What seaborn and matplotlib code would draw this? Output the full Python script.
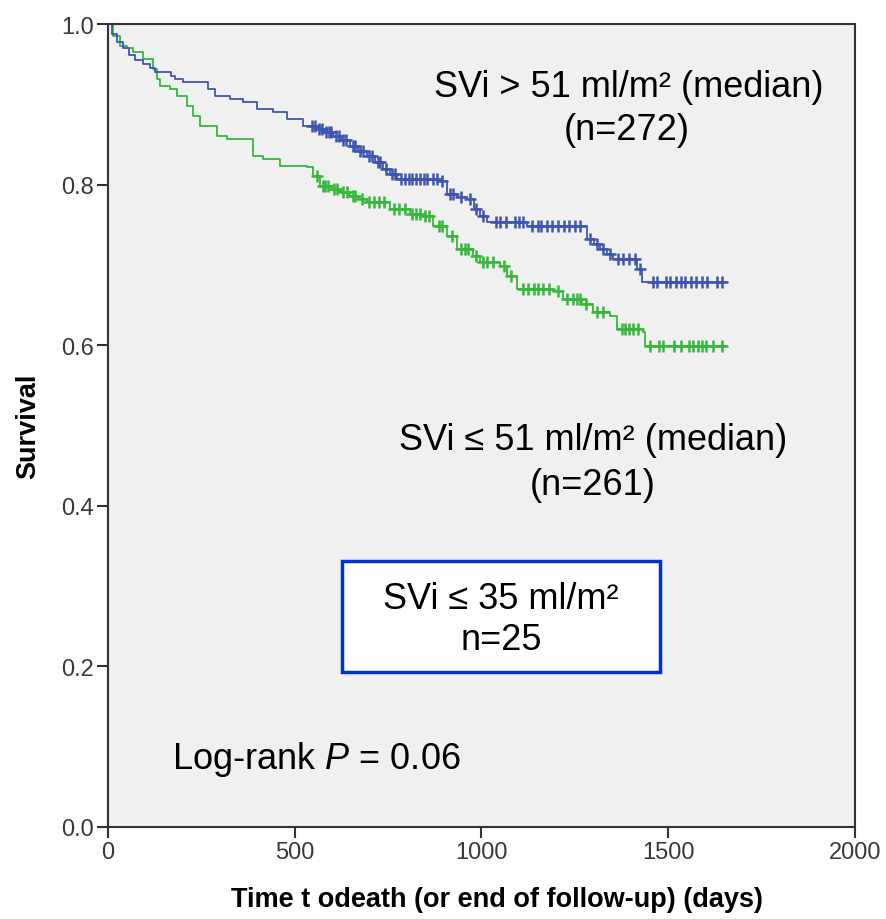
import numpy as np
import pandas as pd
import matplotlib
matplotlib.use("Agg")
import matplotlib.pyplot as plt
import seaborn as sns
from matplotlib.patches import Rectangle

# ---------------- data ----------------
# SVi > 51 ml/m2 (blue): event times (days) and survival after each step
blue_t = [0, 12, 25, 40, 55, 72, 95, 112, 126, 168, 180, 200, 268, 286, 327, 361,
          399, 442, 479, 522, 559, 580, 602, 625, 648, 670, 693, 715, 736, 755,
          773, 889, 907, 935, 961, 980, 996, 1015, 1121, 1282, 1300, 1317, 1335,
          1352, 1416, 1430]
blue_s = [1.0, 0.988, 0.978, 0.970, 0.962, 0.955, 0.950, 0.945, 0.940, 0.935,
          0.931, 0.928, 0.919, 0.910, 0.907, 0.903, 0.894, 0.890, 0.882, 0.873,
          0.869, 0.865, 0.861, 0.855, 0.848, 0.842, 0.836, 0.828, 0.819, 0.813,
          0.807, 0.804, 0.788, 0.785, 0.782, 0.770, 0.761, 0.753, 0.748, 0.732,
          0.726, 0.720, 0.713, 0.707, 0.695, 0.679]
blue_cens = [545, 555, 565, 572, 585, 592, 598, 610, 618, 630, 638, 655, 662, 676,
             684, 700, 708, 722, 728, 745, 760, 768, 785, 795, 805, 815, 825, 835,
             845, 855, 870, 880, 895, 915, 925, 945, 970, 985, 1005, 1040, 1050,
             1065, 1090, 1100, 1110, 1135, 1150, 1160, 1175, 1190, 1205, 1220, 1235,
             1250, 1265, 1290, 1310, 1325, 1345, 1365, 1380, 1395, 1410, 1425, 1460,
             1470, 1495, 1505, 1520, 1535, 1545, 1560, 1575, 1590, 1605, 1630, 1645]

# SVi <= 51 ml/m2 (green)
green_t = [0, 13, 32, 50, 67, 94, 120, 131, 139, 166, 185, 211, 228, 246, 292,
           319, 388, 415, 460, 533, 549, 568, 600, 621, 648, 670, 693, 755, 808,
           843, 870, 907, 934, 977, 996, 1049, 1068, 1095, 1191, 1218, 1270, 1298,
           1344, 1362, 1432, 1438]
green_s = [1.0, 0.985, 0.973, 0.970, 0.965, 0.956, 0.944, 0.931, 0.923, 0.919,
           0.910, 0.898, 0.885, 0.873, 0.861, 0.857, 0.836, 0.832, 0.823, 0.822,
           0.811, 0.798, 0.795, 0.791, 0.786, 0.782, 0.778, 0.770, 0.763, 0.761,
           0.748, 0.736, 0.720, 0.711, 0.704, 0.699, 0.686, 0.670, 0.667, 0.658,
           0.651, 0.641, 0.636, 0.620, 0.616, 0.599]
green_cens = [560, 575, 582, 590, 605, 612, 630, 640, 655, 662, 680, 700, 712, 725,
              740, 765, 780, 795, 815, 825, 835, 850, 860, 885, 895, 920, 945, 955,
              965, 985, 1005, 1015, 1030, 1060, 1080, 1110, 1125, 1140, 1150, 1165,
              1180, 1205, 1230, 1245, 1255, 1265, 1280, 1310, 1325, 1375, 1385, 1395,
              1405, 1420, 1450, 1475, 1485, 1515, 1535, 1555, 1565, 1580, 1590, 1600,
              1620, 1645]

end_time = 1657

x_ticks = [0, 500, 1000, 1500, 2000]
y_ticks = [0.0, 0.2, 0.4, 0.6, 0.8, 1.0]

blue_col = "#4055b0"
green_col = "#36b83c"


def step_value(times, surv, t):
    idx = np.searchsorted(np.asarray(times), t, side="right") - 1
    return np.asarray(surv)[idx]


def curve_df(times, surv, cens, end):
    t = list(times) + [end]
    s = list(surv) + [surv[-1]]
    line = pd.DataFrame({"t": t, "s": s})
    c = np.asarray(cens, dtype=float)
    marks = pd.DataFrame({"t": c, "s": step_value(times, surv, c)})
    return line, marks


blue_line, blue_marks = curve_df(blue_t, blue_s, blue_cens, end_time)
green_line, green_marks = curve_df(green_t, green_s, green_cens, end_time)

# ---------------- figure ----------------
sns.set_theme(style="white")
plt.rcParams["font.family"] = ["Liberation Sans", "DejaVu Sans"]
plt.rcParams["text.color"] = "black"
plt.rcParams["axes.labelcolor"] = "black"
plt.rcParams["mathtext.fontset"] = "custom"
plt.rcParams["mathtext.rm"] = "Liberation Sans"
plt.rcParams["mathtext.it"] = "Liberation Sans:italic"

fig = plt.figure(figsize=(8.87, 9.2), dpi=100)
fig.patch.set_facecolor("white")
ax = fig.add_axes([108 / 887, 92 / 920, 747 / 887, 803 / 920])
ax.set_facecolor("#f0f0f0")

for line, marks, col in [(green_line, green_marks, green_col),
                         (blue_line, blue_marks, blue_col)]:
    sns.lineplot(data=line, x="t", y="s", ax=ax, color=col, lw=1.3,
                 drawstyle="steps-post", estimator=None, sort=False)
    sns.scatterplot(data=marks, x="t", y="s", ax=ax, color=col, marker="+",
                    s=65, linewidth=1.8, zorder=3)

ax.set_xlim(0, 2000)
ax.set_ylim(0, 1.0)
ax.set_xticks(x_ticks)
ax.set_yticks(y_ticks)
ax.set_xticklabels([str(v) for v in x_ticks])
ax.set_yticklabels([f"{v:.1f}" for v in y_ticks])

for lab in ax.get_xticklabels() + ax.get_yticklabels():
    lab.set_fontsize(17)
    lab.set_color("#3a3a3a")

ax.tick_params(axis="both", which="major", direction="out", length=8, width=1.5,
               color="#333333", left=True, bottom=True, pad=2)
for sp in ax.spines.values():
    sp.set_visible(True)
    sp.set_color("#333333")
    sp.set_linewidth(1.5)

ax.set_xlabel("Time t odeath (or end of follow-up) (days)",
              fontsize=19.5, fontweight="bold")
ax.set_ylabel("Survival", fontsize=19.5, fontweight="bold")
ax.xaxis.set_label_coords(0.521, -0.073)
ax.yaxis.set_label_coords(-0.09, 0.5)

fs = 26
ax.text(1393, 0.922, "SVi > 51 ml/m² (median)", ha="center", va="center", fontsize=fs)
ax.text(1390, 0.869, "(n=272)", ha="center", va="center", fontsize=fs)
ax.text(1299, 0.483, "SVi ≤ 51 ml/m² (median)", ha="center", va="center", fontsize=fs)
ax.text(1299, 0.426, "(n=261)", ha="center", va="center", fontsize=fs)

box = Rectangle((626, 0.193), 852, 0.138, facecolor="white", edgecolor="#0033cc",
                linewidth=2.5, zorder=4)
ax.add_patch(box)
ax.text(1052, 0.284, "SVi ≤ 35 ml/m²", ha="center", va="center", fontsize=fs, zorder=5)
ax.text(1052, 0.234, "n=25", ha="center", va="center", fontsize=fs, zorder=5)

ax.text(172, 0.085, "Log-rank $\\it{P}$ = 0.06", ha="left", va="center", fontsize=fs)

fig.savefig("out.png", dpi=100)
